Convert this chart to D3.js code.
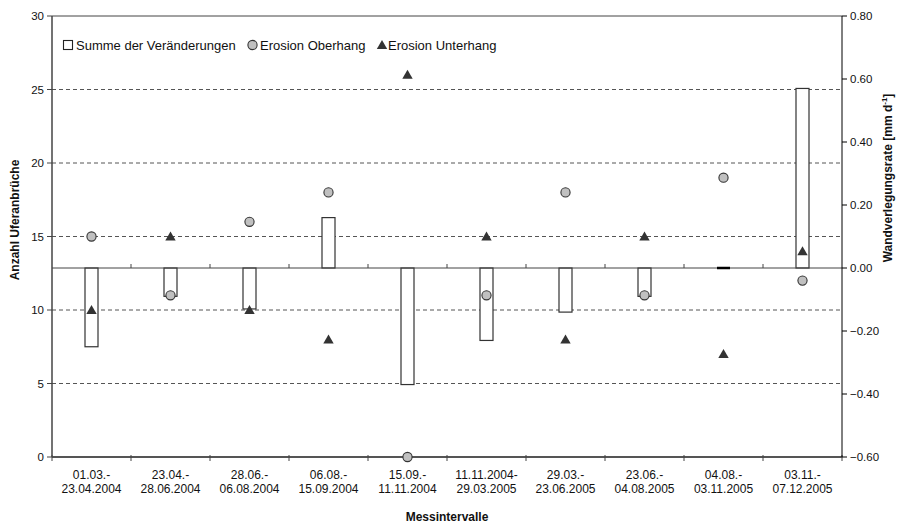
<!DOCTYPE html>
<html>
<head>
<meta charset="utf-8">
<script src="https://cdn.jsdelivr.net/npm/d3@7"></script>
<style>
  html, body { margin: 0; padding: 0; background: #fff; }
  svg { display: block; font-family: "Liberation Sans", Arial, sans-serif; }
</style>
</head>
<body>
<svg id="chart" width="902" height="527"></svg>
<script>
// Measurement intervals (two-line labels)
const intervalStart = ["01.03.-", "23.04.-", "28.06.-", "06.08.-", "15.09.-",
                       "11.11.2004-", "29.03.-", "23.06.-", "04.08.-", "03.11.-"];
const intervalEnd   = ["23.04.2004", "28.06.2004", "06.08.2004", "15.09.2004", "11.11.2004",
                       "29.03.2005", "23.06.2005", "04.08.2005", "03.11.2005", "07.12.2005"];

// Net wall retreat rate per interval [mm d^-1] (right axis)
const summeVeraenderungen = [-0.25, -0.09, -0.13, 0.16, -0.37, -0.23, -0.14, -0.09, 0.00, 0.57];
// Number of bank failures (left axis)
const erosionOberhang  = [15, 11, 16, 18, 0, 11, 18, 11, 19, 12];
const erosionUnterhang = [10, 15, 10, 8, 26, 15, 8, 15, 7, 14];

const leftTicks  = [0, 5, 10, 15, 20, 25, 30];
const rightTicks = [-0.6, -0.4, -0.2, 0, 0.2, 0.4, 0.6, 0.8];

const svg = d3.select("#chart");
const plot = { left: 52, right: 842, top: 16, bottom: 457 };

const categories = d3.range(intervalStart.length);
const x = d3.scaleBand().domain(categories).range([plot.left, plot.right]);
const yL = d3.scaleLinear().domain([0, 30]).range([plot.bottom, plot.top]);
const yR = d3.scaleLinear().domain([-0.6, 0.8]).range([plot.bottom, plot.top]);
const cx = i => x(i) + x.bandwidth() / 2;

// Horizontal dashed gridlines on the left scale
svg.append("g").selectAll("line")
  .data(leftTicks.filter(t => t > 0 && t < 30))
  .join("line")
  .attr("x1", plot.left).attr("x2", plot.right)
  .attr("y1", d => yL(d)).attr("y2", d => yL(d))
  .attr("stroke", "#555").attr("stroke-width", 1)
  .attr("stroke-dasharray", "4,3");

// Top border of the plot area
svg.append("line")
  .attr("x1", plot.left).attr("x2", plot.right)
  .attr("y1", plot.top).attr("y2", plot.top)
  .attr("stroke", "#444").attr("stroke-width", 1);

// Bars (right scale), drawn from zero
const barW = 13;
svg.append("g").selectAll("rect")
  .data(summeVeraenderungen)
  .join("rect")
  .attr("x", (d, i) => cx(i) - barW / 2)
  .attr("y", d => Math.min(yR(d), yR(0)))
  .attr("width", barW)
  .attr("height", d => Math.abs(yR(d) - yR(0)))
  .attr("fill", "#fff")
  .attr("stroke", "#333")
  .attr("stroke-width", 1.2);

// Zero line of the right scale with category ticks
svg.append("line")
  .attr("x1", plot.left).attr("x2", plot.right)
  .attr("y1", yR(0)).attr("y2", yR(0))
  .attr("stroke", "#444").attr("stroke-width", 1);
svg.append("g").selectAll("line")
  .data(d3.range(1, categories.length))
  .join("line")
  .attr("x1", i => x(i)).attr("x2", i => x(i))
  .attr("y1", yR(0) - 4).attr("y2", yR(0))
  .attr("stroke", "#444").attr("stroke-width", 1);

// Zero-height bars appear as a heavy line
svg.append("g").selectAll("line")
  .data(summeVeraenderungen.map((v, i) => ({ v, i })).filter(d => d.v === 0))
  .join("line")
  .attr("x1", d => cx(d.i) - barW / 2).attr("x2", d => cx(d.i) + barW / 2)
  .attr("y1", d => yR(d.v)).attr("y2", d => yR(d.v))
  .attr("stroke", "#000").attr("stroke-width", 2.5);

// Bottom category axis
const xAxis = svg.append("g");
xAxis.append("line")
  .attr("x1", plot.left).attr("x2", plot.right)
  .attr("y1", plot.bottom).attr("y2", plot.bottom)
  .attr("stroke", "#555").attr("stroke-width", 2);
xAxis.selectAll("line.tick")
  .data(d3.range(0, categories.length + 1))
  .join("line").attr("class", "tick")
  .attr("x1", i => plot.left + i * x.bandwidth()).attr("x2", i => plot.left + i * x.bandwidth())
  .attr("y1", plot.bottom - 2).attr("y2", plot.bottom + 4)
  .attr("stroke", "#444").attr("stroke-width", 1);
const xLabels = xAxis.selectAll("text")
  .data(categories)
  .join("text")
  .attr("text-anchor", "middle")
  .attr("font-size", 12)
  .attr("fill", "#111");
xLabels.append("tspan")
  .attr("x", i => cx(i)).attr("y", 479)
  .text(i => intervalStart[i]);
xLabels.append("tspan")
  .attr("x", i => cx(i)).attr("y", 493)
  .text(i => intervalEnd[i]);

// Left axis
const leftAxis = svg.append("g");
leftAxis.append("line")
  .attr("x1", plot.left).attr("x2", plot.left)
  .attr("y1", plot.top).attr("y2", plot.bottom)
  .attr("stroke", "#444").attr("stroke-width", 1.5);
leftAxis.selectAll("line.tick")
  .data(leftTicks).join("line").attr("class", "tick")
  .attr("x1", plot.left - 5).attr("x2", plot.left)
  .attr("y1", d => yL(d)).attr("y2", d => yL(d))
  .attr("stroke", "#444");
leftAxis.selectAll("text")
  .data(leftTicks).join("text")
  .attr("x", plot.left - 8).attr("y", d => yL(d))
  .attr("dy", "0.35em")
  .attr("text-anchor", "end")
  .attr("font-size", 11.5).attr("fill", "#111")
  .text(d => d);

// Right axis
const rightAxis = svg.append("g");
rightAxis.append("line")
  .attr("x1", plot.right).attr("x2", plot.right)
  .attr("y1", plot.top).attr("y2", plot.bottom)
  .attr("stroke", "#000").attr("stroke-width", 1);
rightAxis.selectAll("line.tick")
  .data(rightTicks).join("line").attr("class", "tick")
  .attr("x1", plot.right).attr("x2", plot.right + 5)
  .attr("y1", d => yR(d)).attr("y2", d => yR(d))
  .attr("stroke", "#000");
rightAxis.selectAll("text")
  .data(rightTicks).join("text")
  .attr("x", plot.right + 8).attr("y", d => yR(d))
  .attr("dy", "0.35em")
  .attr("font-size", 11.5).attr("fill", "#111")
  .text(d => d3.format(".2f")(d));

// Marker shapes
const triPath = "M0,-5L5.2,4L-5.2,4Z";

// Erosion Unterhang (triangles)
svg.append("g").selectAll("path")
  .data(erosionUnterhang).join("path")
  .attr("d", triPath)
  .attr("transform", (d, i) => `translate(${cx(i)},${yL(d)})`)
  .attr("fill", "#333");

// Erosion Oberhang (circles)
svg.append("g").selectAll("circle")
  .data(erosionOberhang).join("circle")
  .attr("cx", (d, i) => cx(i)).attr("cy", d => yL(d))
  .attr("r", 4.6)
  .attr("fill", "#c0c0c0").attr("stroke", "#333").attr("stroke-width", 1.1);

// Legend
const legend = svg.append("g").attr("font-size", 13).attr("fill", "#111");
legend.append("rect").attr("x", 63.5).attr("y", 40.5).attr("width", 9).attr("height", 9)
  .attr("fill", "#fff").attr("stroke", "#222").attr("stroke-width", 1.1);
legend.append("text").attr("x", 76).attr("y", 49.5).text("Summe der Veränderungen");
legend.append("circle").attr("cx", 252.5).attr("cy", 45).attr("r", 4.6)
  .attr("fill", "#c0c0c0").attr("stroke", "#333").attr("stroke-width", 1.1);
legend.append("text").attr("x", 260).attr("y", 49.5).text("Erosion Oberhang");
legend.append("path").attr("d", triPath).attr("transform", "translate(382,45)").attr("fill", "#333");
legend.append("text").attr("x", 388).attr("y", 49.5).text("Erosion Unterhang");

// Axis titles
svg.append("text")
  .attr("transform", "translate(19,220) rotate(-90)")
  .attr("text-anchor", "middle")
  .attr("font-size", 12).attr("font-weight", "bold").attr("fill", "#111")
  .text("Anzahl Uferanbrüche");

const rTitle = svg.append("text")
  .attr("transform", "translate(892,178) rotate(-90)")
  .attr("text-anchor", "middle")
  .attr("font-size", 12).attr("font-weight", "bold").attr("fill", "#111");
rTitle.append("tspan").text("Wandverlegungsrate [mm d");
rTitle.append("tspan").attr("font-size", 8).attr("dy", -5).text("-1");
rTitle.append("tspan").attr("dy", 5).text("]");

svg.append("text")
  .attr("x", 447).attr("y", 521)
  .attr("text-anchor", "middle")
  .attr("font-size", 12).attr("font-weight", "bold").attr("fill", "#111")
  .text("Messintervalle");
</script>
</body>
</html>
